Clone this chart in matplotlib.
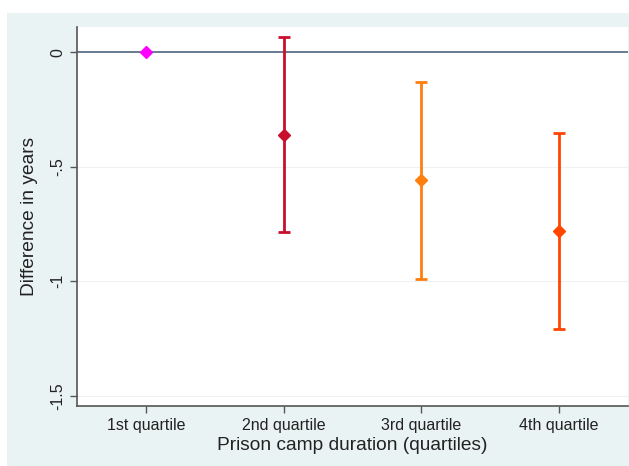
import matplotlib.pyplot as plt

plt.rcParams['font.family'] = ['Liberation Sans', 'DejaVu Sans']

# Estimates relative to the first quartile, with 95% confidence bounds
quartiles = ['1st quartile', '2nd quartile', '3rd quartile', '4th quartile']
estimate = [0.0, -0.362, -0.559, -0.779]
ci_low = [0.0, -0.786, -0.991, -1.210]
ci_high = [0.0, 0.065, -0.128, -0.351]
colors = ['#ff00ff', '#c8102e', '#ff7f0e', '#ff4500']

fig = plt.figure(figsize=(6.29, 4.66), dpi=100)
fig.patch.set_facecolor('white')

# shaded graph region behind the plot area
bg = fig.add_axes([7 / 629, 0, 1 - 7 / 629, 1 - 13 / 466], zorder=-1)
bg.set_facecolor('#eaf3f3')
bg.set_xticks([])
bg.set_yticks([])
for s in bg.spines.values():
    s.set_visible(False)

ax = fig.add_axes([77 / 629, 1 - 406 / 466, (628 - 77) / 629, (406 - 27) / 466])
ax.set_facecolor('white')

for i in range(len(quartiles)):
    x = i + 1
    if i == 0:
        ax.plot(x, estimate[i], marker='D', color=colors[i], markersize=6.5, zorder=4)
        continue
    ax.errorbar(x, estimate[i],
                yerr=[[estimate[i] - ci_low[i]], [ci_high[i] - estimate[i]]],
                fmt='D', color=colors[i], ecolor=colors[i], elinewidth=2,
                capsize=4, capthick=2, markersize=6.5, zorder=4)

ax.axhline(0, color='#4f6580', linewidth=1.2, zorder=2)
for y in [-0.5, -1.0, -1.5]:
    ax.axhline(y, color='#eef2f2', linewidth=0.8, zorder=1)

ax.set_xlim(0.5, 4.5)
ax.set_ylim(-1.545, 0.11)
ax.set_xticks(range(1, 5))
ax.set_xticklabels(quartiles, fontsize=11.5)
ax.set_yticks([0, -0.5, -1, -1.5])
ax.set_yticklabels(['0', '-.5', '-1', '-1.5'], fontsize=11.5, rotation=90, va='center')

for side in ['top', 'right']:
    ax.spines[side].set_visible(False)
for side in ['left', 'bottom']:
    ax.spines[side].set_color('#555555')
    ax.spines[side].set_linewidth(1.2)
ax.tick_params(axis='both', colors='#555555', labelcolor='#222222', length=5, width=1)

ax.set_xlabel('Prison camp duration (quartiles)', fontsize=13.8, color='#222222', labelpad=3)
ax.set_ylabel('Difference in years', fontsize=13.8, color='#222222', labelpad=8.5)

fig.savefig('out.png', dpi=100)
